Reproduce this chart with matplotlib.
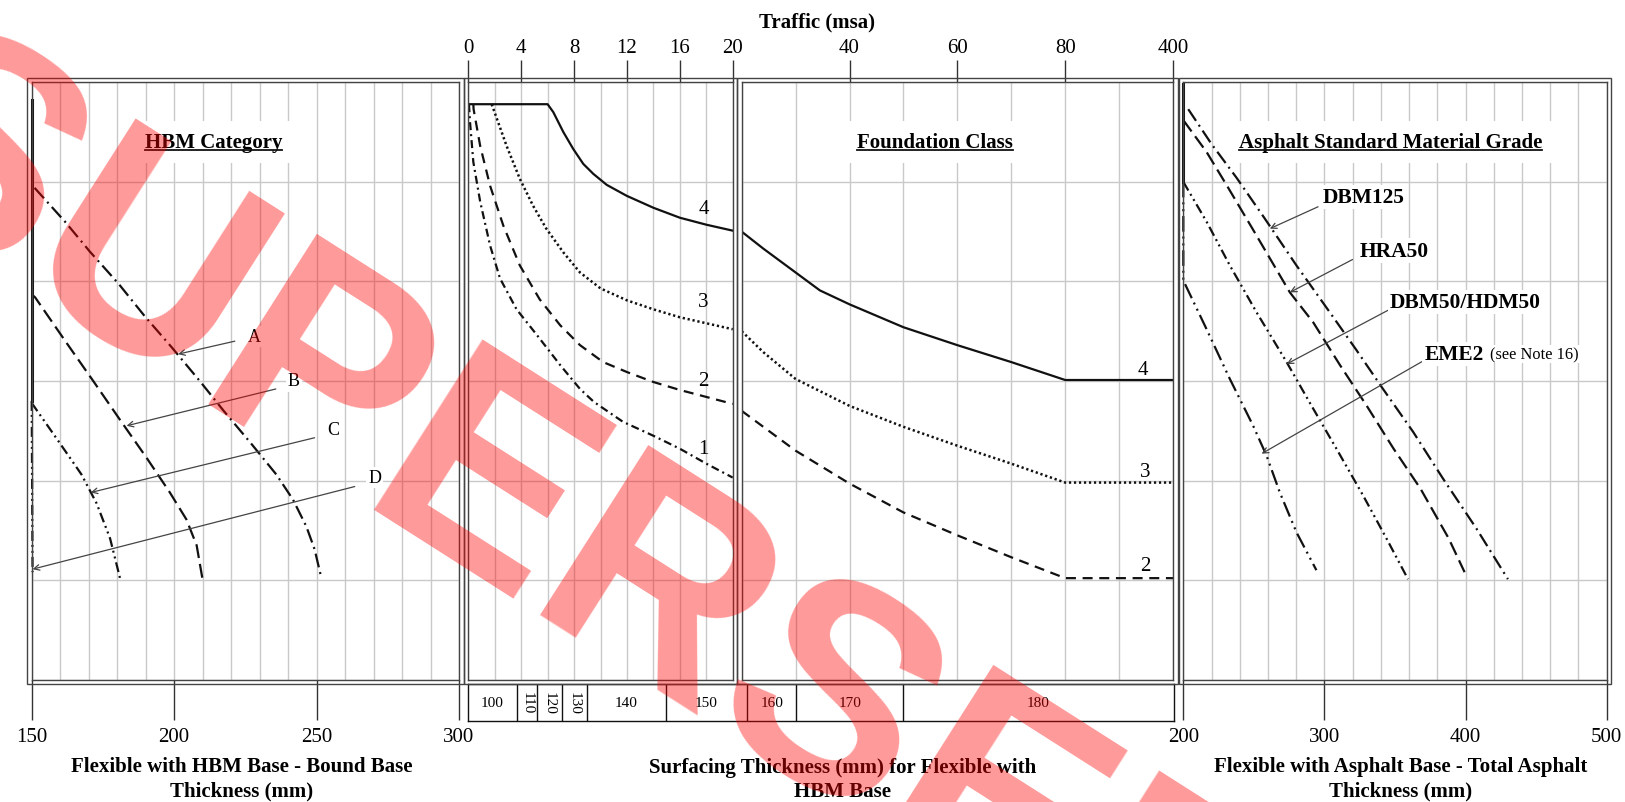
import numpy as np
import matplotlib
matplotlib.use('Agg')
import matplotlib.pyplot as plt
from matplotlib.patches import Rectangle
from matplotlib.lines import Line2D

plt.rcParams['font.family'] = ['Liberation Serif', 'DejaVu Serif']

W, H = 1625, 803

# ---------------- data (y is the shared, unlabelled nomograph scale 0..6) ----------------
# traffic 0-20 msa panel, foundation class curves
c4_lo_t = [0, 6.0, 6.43, 7.19, 7.94, 8.7, 9.46, 10.47, 11.98, 14.0, 16.0, 18.0, 20.0]
c4_lo_u = [5.78, 5.78, 5.70, 5.50, 5.33, 5.18, 5.08, 4.97, 4.86, 4.74, 4.64, 4.57, 4.51]
c3_lo_t = [1.77, 2.9, 3.9, 4.9, 5.9, 7.2, 8.45, 10.0, 12.0, 14.0, 16.0, 18.0, 20.0]
c3_lo_u = [5.78, 5.36, 5.03, 4.76, 4.53, 4.29, 4.09, 3.93, 3.81, 3.72, 3.64, 3.58, 3.52]
c2_lo_t = [0.38, 0.4, 0.9, 1.65, 2.65, 3.9, 5.4, 6.95, 8.45, 10.2, 12.0, 14.0, 16.0, 18.0, 20.0]
c2_lo_u = [5.78, 5.73, 5.36, 4.96, 4.56, 4.16, 3.82, 3.56, 3.36, 3.19, 3.09, 2.99, 2.91, 2.84, 2.77]
c1_lo_t = [0.05, 0.13, 0.38, 0.9, 1.65, 2.4, 3.65, 5.2, 6.95, 8.45, 9.5, 11.7, 14.0, 16.0, 18.0, 20.0]
c1_lo_u = [5.78, 5.6, 5.2, 4.8, 4.36, 4.03, 3.72, 3.46, 3.16, 2.92, 2.79, 2.59, 2.45, 2.32, 2.17, 2.03]

# traffic 20-400 msa panel
c4_hi_t = [20, 24, 29, 34.5, 40, 50, 60, 70, 80, 400]
c4_hi_u = [4.50, 4.33, 4.13, 3.91, 3.77, 3.54, 3.36, 3.19, 3.01, 3.01]
c3_hi_t = [20, 24, 30, 40, 50, 60, 70, 80, 400]
c3_hi_u = [3.50, 3.29, 3.02, 2.75, 2.54, 2.35, 2.17, 1.98, 1.98]
c2_hi_t = [20, 30, 40, 50, 60, 70, 80, 400]
c2_hi_u = [2.70, 2.30, 1.97, 1.68, 1.45, 1.23, 1.02, 1.02]

# HBM category curves (bound base thickness, mm)
hbm_min_mm = [150, 150]
hbm_min_u = [5.82, 2.80]
hbm_a_mm = [151, 161.7, 170.4, 180.4, 189.7, 199.1, 209.0, 217.4, 226.8, 235.9, 241.7, 246.4, 249.3, 251.7]
hbm_a_u = [4.94, 4.60, 4.30, 3.98, 3.65, 3.34, 3.00, 2.70, 2.38, 2.06, 1.81, 1.54, 1.31, 1.02]
hbm_b_mm = [150, 151.2, 162.3, 171.6, 181.0, 190.3, 198.5, 204.3, 207.9, 209.9]
hbm_b_u = [3.87, 3.84, 3.38, 3.00, 2.61, 2.23, 1.88, 1.61, 1.35, 1.02]
hbm_c_mm = [150, 151.2, 158.8, 167.5, 172.8, 177.5, 181.0]
hbm_c_u = [2.78, 2.73, 2.42, 2.06, 1.77, 1.42, 1.02]
hbm_d_mm = [150, 150.3]
hbm_d_u = [2.80, 1.08]

# asphalt material curves (total asphalt thickness, mm)
asp_min_mm = [200, 200]
asp_min_u = [5.98, 5.00]
dbm125_mm = [203.5, 220, 237.8, 257.8, 280.2, 303.8, 322.7, 341.5, 362.8, 384, 407.6, 430]
dbm125_u = [5.73, 5.38, 5.04, 4.63, 4.16, 3.69, 3.31, 2.92, 2.49, 2.02, 1.52, 1.01]
hra50_mm = [200, 216.5, 231, 249, 275.5, 292, 311, 330, 349, 368, 388, 399.3]
hra50_u = [5.62, 5.30, 4.96, 4.53, 3.89, 3.59, 3.16, 2.75, 2.32, 1.92, 1.42, 1.08]
dbm50_mm = [200, 216.5, 233, 251.9, 273.2, 290.9, 308.5, 327.4, 343.9, 359.2]
dbm50_u = [5.0, 4.6, 4.16, 3.69, 3.19, 2.75, 2.32, 1.85, 1.42, 1.01]
eme2_mm = [200, 200, 216.5, 233, 249.5, 259, 268.4, 280.2, 294.3]
eme2_u = [5.0, 4.01, 3.52, 3.02, 2.55, 2.25, 1.88, 1.48, 1.10]

# surfacing thickness strip
surf_edges = [0, 3.6, 5.1, 7.0, 8.8, 14.7, 21.8, 30.8, 50.3, 400]
surf_labels = ['100', '110', '120', '130', '140', '150', '160', '170', '180']
surf_vertical = [False, True, True, True, False, False, False, False, False]

lo_ticks = [0, 4, 8, 12, 16, 20]
hi_ticks = [40, 60, 80, 400]
hi_grid = [20, 30, 40, 50, 60, 70, 80, 240, 400]
hbm_ticks = [150, 200, 250, 300]
asp_ticks = [200, 300, 400, 500]

# traffic axis is compressed beyond 80 msa
hi_knots_t = [20, 80, 400]
hi_knots_p = [20, 80, 100]
strip_knots_t = [0, 20, 80, 400]
strip_knots_p = [0, 268.7, 596.7, 704.7]


def fwd_hi(t):
    return np.interp(t, hi_knots_t, hi_knots_p)


def inv_hi(p):
    return np.interp(p, hi_knots_p, hi_knots_t)


def fwd_strip(t):
    return np.interp(t, strip_knots_t, strip_knots_p)


def inv_strip(p):
    return np.interp(p, strip_knots_p, strip_knots_t)


fig = plt.figure(figsize=(W / 100, H / 100), dpi=100)


def box(x0, y0, x1, y1):
    # pixel box measured from the top-left -> figure rect
    return [x0 / W, 1 - y1 / H, (x1 - x0) / W, (y1 - y0) / H]


P_TOP, P_BOT = 83.3, 680.7
ax_hbm = fig.add_axes(box(31.7, P_TOP, 459, P_BOT))
ax_lo = fig.add_axes(box(468.3, P_TOP, 732.7, P_BOT))
ax_hi = fig.add_axes(box(741.7, P_TOP, 1173, P_BOT))
ax_asp = fig.add_axes(box(1183.3, P_TOP, 1606.7, P_BOT))
ax_strip = fig.add_axes(box(468.3, 685, 1173.5, 722))

GRID = '#c9c9c9'
INK = '#111111'
FRAME = '#444444'


def panel(ax):
    ax.set_ylim(0, 6)
    ax.set_yticks(range(7))
    ax.tick_params(axis='y', left=False, labelleft=False)
    ax.grid(True, which='both', axis='both', color=GRID, lw=1)
    ax.set_axisbelow(True)
    ax.tick_params(axis='x', which='minor', length=0)
    ax.tick_params(axis='x', which='major', labelsize=15, color='#333333', width=1)
    for s in ax.spines.values():
        s.set_color(FRAME)
        s.set_linewidth(1)
    bb = ax.get_position()
    px, py = 4.5 / W, 4 / H
    fig.add_artist(Rectangle((bb.x0 - px, bb.y0 - py), bb.width + 2 * px, bb.height + 2 * py,
                             transform=fig.transFigure, fill=False, ec=FRAME, lw=1))


# left: HBM base thickness
ax_hbm.set_xlim(150, 300)
ax_hbm.set_xticks(hbm_ticks)
ax_hbm.set_xticks(range(150, 301, 10), minor=True)
panel(ax_hbm)
ax_hbm.tick_params(axis='x', which='major', direction='out', length=29, pad=5)

# middle: traffic 0-20
ax_lo.set_xlim(0, 20)
ax_lo.set_xticks(lo_ticks)
ax_lo.set_xticks(range(0, 21, 2), minor=True)
panel(ax_lo)
ax_lo.tick_params(axis='x', which='major', top=True, labeltop=True, bottom=False,
                  labelbottom=False, direction='out', length=16, pad=2)

# middle: traffic 20-400
ax_hi.set_xscale('function', functions=(fwd_hi, inv_hi))
ax_hi.set_xlim(20, 400)
ax_hi.set_xticks(hi_ticks)
ax_hi.set_xticks(hi_grid, minor=True)
panel(ax_hi)
ax_hi.tick_params(axis='x', which='major', top=True, labeltop=True, bottom=False,
                  labelbottom=False, direction='out', length=16, pad=2)

# right: asphalt thickness
ax_asp.set_xlim(200, 500)
ax_asp.set_xticks(asp_ticks)
ax_asp.set_xticks(range(200, 501, 20), minor=True)
panel(ax_asp)
ax_asp.tick_params(axis='x', which='major', direction='out', length=29, pad=5)

LW = 1.6
SOLID = '-'
DOTTED = (0, (0.9, 1.1))
DASHED = (0, (4.5, 3))
DASHDOT = (0, (3.6, 1.8, 0.9, 1.8))
LONGDASHDOT = (0, (6.3, 2.2, 0.9, 2.2))
LONGDASH = (0, (6.3, 2.7))
DASHDOTDOT = (0, (4.5, 1.8, 0.9, 1.8, 0.9, 1.8))
LONGDASHDOTDOT = (0, (7, 2.2, 0.9, 2.2, 0.9, 2.2))

# foundation class curves
ax_lo.plot(c4_lo_t, c4_lo_u, color=INK, lw=LW, ls=SOLID)
ax_lo.plot(c3_lo_t, c3_lo_u, color=INK, lw=1.8, ls=DOTTED)
ax_lo.plot(c2_lo_t, c2_lo_u, color=INK, lw=LW, ls=DASHED)
ax_lo.plot(c1_lo_t, c1_lo_u, color=INK, lw=LW, ls=DASHDOT)
ax_hi.plot(c4_hi_t, c4_hi_u, color=INK, lw=LW, ls=SOLID)
ax_hi.plot(c3_hi_t, c3_hi_u, color=INK, lw=1.8, ls=DOTTED)
ax_hi.plot(c2_hi_t, c2_hi_u, color=INK, lw=LW, ls=DASHED)

for lab, t, u in [('4', 17.8, 4.73), ('3', 17.8, 3.80), ('2', 17.8, 3.0), ('1', 17.8, 2.32)]:
    ax_lo.text(t, u, lab, fontsize=15, ha='center', va='center')
for lab, t, u in [('4', 312, 3.12), ('3', 317, 2.09), ('2', 319, 1.15)]:
    ax_hi.text(t, u, lab, fontsize=15, ha='center', va='center')

# HBM curves
ax_hbm.plot(hbm_min_mm, hbm_min_u, color=INK, lw=2.2, ls=SOLID, clip_on=False)
ax_hbm.plot(hbm_a_mm, hbm_a_u, color=INK, lw=LW, ls=LONGDASHDOT)
ax_hbm.plot(hbm_b_mm, hbm_b_u, color=INK, lw=LW, ls=LONGDASH)
ax_hbm.plot(hbm_c_mm, hbm_c_u, color=INK, lw=LW, ls=DASHDOTDOT)
ax_hbm.plot(hbm_d_mm, hbm_d_u, color=INK, lw=LW, ls=DASHDOTDOT, clip_on=False)

arrow = dict(arrowstyle='->', color='#444444', lw=0.9, shrinkA=0, shrinkB=0)
for lab, txt, tail, tip in [('A', (228.3, 3.45), (221.3, 3.40), (201.4, 3.27)),
                            ('B', (242.0, 3.00), (235.7, 2.92), (183.3, 2.55)),
                            ('C', (255.7, 2.51), (249.3, 2.43), (170.7, 1.88)),
                            ('D', (270.4, 2.03), (263.4, 1.94), (150.3, 1.11))]:
    ax_hbm.annotate('', xy=tip, xytext=tail, arrowprops=arrow)
    ax_hbm.text(txt[0], txt[1], lab, fontsize=13, ha='center', va='center',
                bbox=dict(fc='white', ec='none', pad=1.5))

# asphalt curves
ax_asp.plot(asp_min_mm, asp_min_u, color=INK, lw=2.2, ls=SOLID, clip_on=False)
ax_asp.plot(dbm125_mm, dbm125_u, color=INK, lw=LW, ls=LONGDASHDOT)
ax_asp.plot(hra50_mm, hra50_u, color=INK, lw=LW, ls=LONGDASH)
ax_asp.plot(dbm50_mm, dbm50_u, color=INK, lw=LW, ls=DASHDOTDOT)
ax_asp.plot(eme2_mm, eme2_u, color=INK, lw=LW, ls=LONGDASHDOTDOT, clip_on=False)

for lab, txt, tail, tip in [('DBM125', (298.8, 4.85), (295.5, 4.75), (261.3, 4.53)),
                            ('HRA50', (325.0, 4.31), (319.9, 4.22), (275.5, 3.89)),
                            ('DBM50/HDM50', (346.3, 3.79), (345.0, 3.71), (273.2, 3.17)),
                            ('EME2', (371.0, 3.27), (371.0, 3.21), (255.5, 2.27))]:
    ax_asp.annotate('', xy=tip, xytext=tail, arrowprops=arrow)
    ax_asp.text(txt[0], txt[1], lab, fontsize=15.5, fontweight='bold', ha='left', va='center',
                bbox=dict(fc='white', ec='none', pad=1.5))
ax_asp.text(417.5, 3.27, '(see Note 16)', fontsize=11.8, ha='left', va='center',
            bbox=dict(fc='white', ec='none', pad=1.0))

# surfacing thickness strip
ax_strip.set_xscale('function', functions=(fwd_strip, inv_strip))
ax_strip.set_xlim(0, 400)
ax_strip.set_ylim(0, 1)
ax_strip.set_xticks([])
ax_strip.set_yticks([])
ax_strip.set_xticks([], minor=True)
for s in ax_strip.spines.values():
    s.set_color(INK)
    s.set_linewidth(1)
for e in surf_edges[1:-1]:
    ax_strip.axvline(e, color=INK, lw=1)
for i, lab in enumerate(surf_labels):
    mid = inv_strip((fwd_strip(surf_edges[i]) + fwd_strip(surf_edges[i + 1])) / 2)
    ax_strip.text(mid, 0.5, lab, fontsize=11, ha='center', va='center',
                  rotation=270 if surf_vertical[i] else 0)

# titles
title_y = 1 - (148 - P_TOP) / (P_BOT - P_TOP)
titles = [
    ax_hbm.text(0.425, title_y, 'HBM Category', transform=ax_hbm.transAxes),
    ax_hi.text(0.449, title_y, 'Foundation Class', transform=ax_hi.transAxes),
    ax_asp.text(0.489, title_y, 'Asphalt Standard Material Grade', transform=ax_asp.transAxes),
]
for t in titles:
    t.set_fontsize(15)
    t.set_fontweight('bold')
    t.set_ha('center')
    t.set_va('baseline')
    t.set_bbox(dict(fc='white', ec='none', pad=8))

# axis labels
fig.text(817 / W, 1 - 22 / H, 'Traffic (msa)', fontsize=15, fontweight='bold', ha='center', va='center')
fig.text(241.5 / W, 1 - 779 / H, 'Flexible with HBM Base - Bound Base\nThickness (mm)',
         fontsize=15, fontweight='bold', ha='center', va='center', linespacing=1.3)
fig.text(843 / W, 1 - 780 / H, 'Surfacing Thickness (mm) for Flexible with\nHBM Base',
         fontsize=15, fontweight='bold', ha='center', va='center', linespacing=1.3)
fig.text(1400.7 / W, 1 - 779 / H, 'Flexible with Asphalt Base - Total Asphalt\nThickness (mm)',
         fontsize=15, fontweight='bold', ha='center', va='center', linespacing=1.3)

# watermark
fig.text(742 / W, 1 - 660 / H, 'SUPERSEDED', fontsize=212, fontweight='bold',
         family=['Liberation Sans', 'DejaVu Sans'], color='red', alpha=0.4,
         rotation=-32.5, rotation_mode='anchor', ha='center', va='center', zorder=100)

# underline the panel titles
fig.canvas.draw()
rend = fig.canvas.get_renderer()
inv = fig.transFigure.inverted()
for t in titles:
    bb = t.get_window_extent(rend)
    base = t.get_transform().transform(t.get_position())[1]
    (x0, y0), (x1, _) = inv.transform([[bb.x0, base - 3], [bb.x1, base - 3]])
    fig.add_artist(Line2D([x0, x1], [y0, y0], transform=fig.transFigure, color=INK, lw=1.3))

fig.savefig('out.png', dpi=100, facecolor='white')
